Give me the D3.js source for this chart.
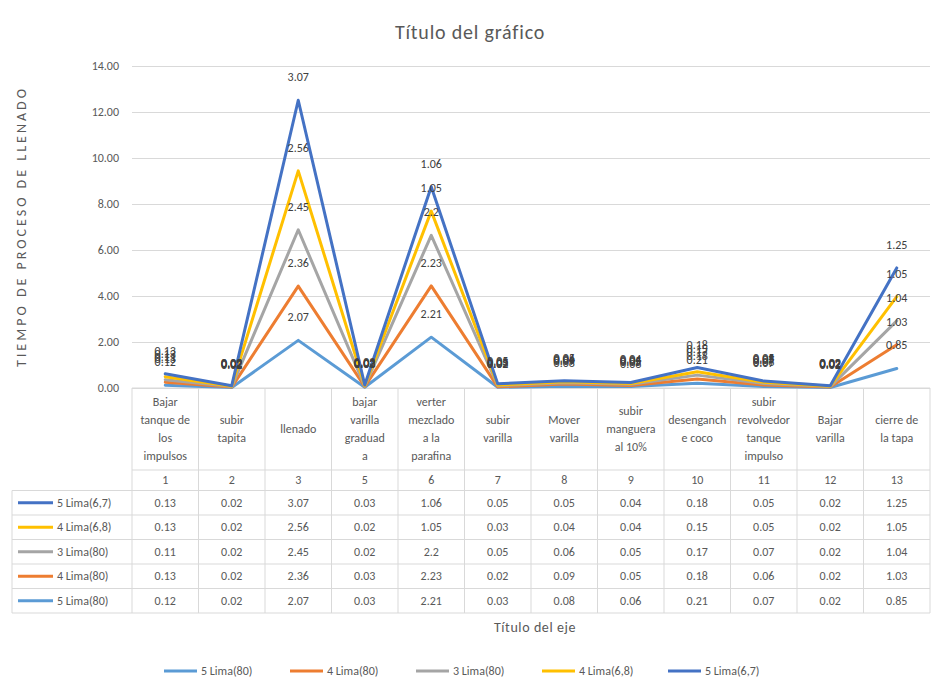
<!DOCTYPE html>
<html>
<head>
<meta charset="utf-8">
<script src="https://cdn.jsdelivr.net/npm/d3@7"></script>
<style>
  body { margin: 0; background: #fff; }
  text { font-family: Carlito, Calibri, Lato, "Liberation Sans", sans-serif; }
</style>
</head>
<body>
<svg id="chart" width="933" height="681"></svg>
<script>
// Steps of the filling process (category labels, wrapped as in the data table)
const categories = [
  "Bajar\ntanque de\nlos\nimpulsos", "subir\ntapita", "llenado", "bajar\nvarilla\ngraduad\na",
  "verter\nmezclado\na la\nparafina", "subir\nvarilla", "Mover\nvarilla", "subir\nmanguera\nal 10%",
  "desenganch\ne coco", "subir\nrevolvedor\ntanque\nimpulso", "Bajar\nvarilla", "cierre de\nla tapa"
];
const stepNumbers = ["1", "2", "3", "5", "6", "7", "8", "9", "10", "11", "12", "13"];

// Series (stacked, bottom to top)
const seriesNames = ["5 Lima(80)", "4 Lima(80)", "3 Lima(80)", "4 Lima(6,8)", "5 Lima(6,7)"];
const seriesColors = ["#5B9BD5", "#ED7D31", "#A5A5A5", "#FFC000", "#4472C4"];
const lima80_5 = [0.12, 0.02, 2.07, 0.03, 2.21, 0.03, 0.08, 0.06, 0.21, 0.07, 0.02, 0.85];
const lima80_4 = [0.13, 0.02, 2.36, 0.03, 2.23, 0.02, 0.09, 0.05, 0.18, 0.06, 0.02, 1.03];
const lima80_3 = [0.11, 0.02, 2.45, 0.02, 2.2, 0.05, 0.06, 0.05, 0.17, 0.07, 0.02, 1.04];
const lima68_4 = [0.13, 0.02, 2.56, 0.02, 1.05, 0.03, 0.04, 0.04, 0.15, 0.05, 0.02, 1.05];
const lima67_5 = [0.13, 0.02, 3.07, 0.03, 1.06, 0.05, 0.05, 0.04, 0.18, 0.05, 0.02, 1.25];
const seriesValues = [lima80_5, lima80_4, lima80_3, lima68_4, lima67_5];

const yTicks = [0, 2, 4, 6, 8, 10, 12, 14];

const chartTitle = "Título del gráfico";
const yTitle = "TIEMPO DE PROCESO DE LLENADO";
const xTitle = "Título del eje";

// ---- layout ----
const svg = d3.select("#chart");
const textColor = "#595959";
const gridColor = "#d9d9d9";
const plotLeft = 132, plotRight = 930, plotTop = 66, plotBottom = 388;

const x = d3.scaleBand().domain(d3.range(categories.length)).range([plotLeft, plotRight]);
const y = d3.scaleLinear().domain([0, 14]).range([plotBottom, plotTop]);
const cx = i => x(i) + x.bandwidth() / 2;

// Stack the series
const rows = categories.map((c, i) => {
  const r = {};
  seriesValues.forEach((arr, s) => r[s] = arr[i]);
  return r;
});
const stacked = d3.stack().keys(d3.range(seriesValues.length))(rows);

// Title
svg.append("text")
  .attr("x", 470).attr("y", 39)
  .attr("text-anchor", "middle")
  .attr("font-size", 20)
  .attr("letter-spacing", 0.8)
  .attr("fill", textColor)
  .text(chartTitle);

// Y axis with gridlines
const yAxis = svg.append("g")
  .attr("transform", `translate(${plotLeft},0)`)
  .call(d3.axisLeft(y).tickValues(yTicks).tickFormat(d3.format(".2f"))
        .tickSize(-(plotRight - plotLeft)).tickPadding(13));
yAxis.select(".domain").remove();
yAxis.selectAll(".tick line").attr("stroke", gridColor).attr("stroke-width", 1);
yAxis.selectAll(".tick text").attr("fill", textColor).attr("font-size", 12)
  .style("font-family", "Carlito, Calibri, Lato, 'Liberation Sans', sans-serif");

// Y axis title
svg.append("text")
  .attr("transform", "translate(26,228) rotate(-90)")
  .attr("text-anchor", "middle")
  .attr("font-size", 14)
  .attr("textLength", 278)
  .attr("lengthAdjust", "spacing")
  .attr("fill", textColor)
  .text(yTitle);

// ---- data table ----
const tableLeft = 12, headerBottom = 470, numberRowBottom = 490.5, rowH = 24.5;
const tableBottom = numberRowBottom + rowH * seriesValues.length;
const grid = svg.append("g").attr("stroke", gridColor).attr("stroke-width", 1);

// vertical cell borders
d3.range(categories.length + 1).forEach(k => {
  const xx = k < categories.length ? x(k) : plotRight;
  grid.append("line").attr("x1", xx).attr("x2", xx).attr("y1", plotBottom).attr("y2", tableBottom);
});
grid.append("line").attr("x1", tableLeft).attr("x2", tableLeft).attr("y1", numberRowBottom).attr("y2", tableBottom);
// horizontal cell borders
grid.append("line").attr("x1", plotLeft).attr("x2", plotRight).attr("y1", plotBottom).attr("y2", plotBottom);
grid.append("line").attr("x1", plotLeft).attr("x2", plotRight).attr("y1", headerBottom).attr("y2", headerBottom);
d3.range(seriesValues.length + 1).forEach(k => {
  const yy = numberRowBottom + k * rowH;
  grid.append("line").attr("x1", tableLeft).attr("x2", plotRight).attr("y1", yy).attr("y2", yy);
});

// category names
categories.forEach((name, i) => {
  const lines = name.split("\n");
  const lh = 18;
  const mid = (plotBottom + headerBottom) / 2;
  const t = svg.append("text")
    .attr("text-anchor", "middle").attr("font-size", 12).attr("fill", textColor);
  lines.forEach((ln, j) => {
    t.append("tspan")
      .attr("x", cx(i))
      .attr("y", mid + (j - (lines.length - 1) / 2) * lh + 4)
      .text(ln);
  });
});
// step numbers
stepNumbers.forEach((n, i) => {
  svg.append("text")
    .attr("x", cx(i)).attr("y", (headerBottom + numberRowBottom) / 2 + 4)
    .attr("text-anchor", "middle").attr("font-size", 12).attr("fill", textColor)
    .text(n);
});
// series rows (top row = last series)
const rowOrder = d3.range(seriesValues.length).reverse();
rowOrder.forEach((s, r) => {
  const yc = numberRowBottom + r * rowH + rowH / 2;
  svg.append("line")
    .attr("x1", 18).attr("x2", 53).attr("y1", yc).attr("y2", yc)
    .attr("stroke", seriesColors[s]).attr("stroke-width", 3);
  svg.append("text")
    .attr("x", 57).attr("y", yc + 4)
    .attr("font-size", 12).attr("fill", textColor)
    .text(seriesNames[s]);
  seriesValues[s].forEach((v, i) => {
    svg.append("text")
      .attr("x", cx(i)).attr("y", yc + 4)
      .attr("text-anchor", "middle").attr("font-size", 12).attr("fill", textColor)
      .text(String(v));
  });
});

// ---- lines ----
const line = d3.line().x((d, i) => cx(i)).y(d => y(d[1])).curve(d3.curveLinear);
stacked.forEach((layer, s) => {
  svg.append("path")
    .datum(layer)
    .attr("fill", "none")
    .attr("stroke", seriesColors[s])
    .attr("stroke-width", 3)
    .attr("stroke-linejoin", "round")
    .attr("stroke-linecap", "round")
    .attr("d", line);
});

// data labels above each stacked point
stacked.forEach((layer, s) => {
  layer.forEach((d, i) => {
    svg.append("text")
      .attr("x", cx(i)).attr("y", y(d[1]) - 19)
      .attr("text-anchor", "middle").attr("font-size", 12).attr("fill", "#404040")
      .text(String(seriesValues[s][i]));
  });
});

// X axis title
svg.append("text")
  .attr("x", (plotLeft + plotRight) / 2 + 4).attr("y", 632)
  .attr("text-anchor", "middle").attr("font-size", 14).attr("letter-spacing", 0.6)
  .attr("fill", textColor)
  .text(xTitle);

// ---- legend ----
const legend = svg.append("g");
seriesNames.forEach((name, s) => {
  const x0 = 164 + s * 126;
  legend.append("line")
    .attr("x1", x0).attr("x2", x0 + 33).attr("y1", 671).attr("y2", 671)
    .attr("stroke", seriesColors[s]).attr("stroke-width", 3);
  legend.append("text")
    .attr("x", x0 + 37).attr("y", 675)
    .attr("font-size", 12).attr("fill", textColor)
    .text(name);
});
</script>
</body>
</html>
